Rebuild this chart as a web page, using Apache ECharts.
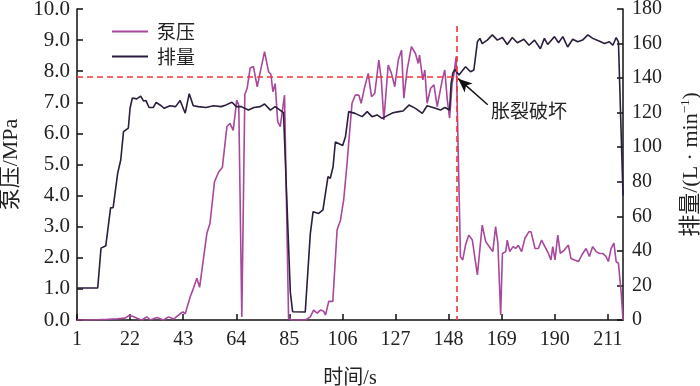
<!DOCTYPE html>
<html>
<head>
<meta charset="utf-8">
<script src="https://cdn.jsdelivr.net/npm/echarts@6/dist/echarts.min.js"></script>
<style>
  html, body { margin: 0; padding: 0; background: #fff; }
  #myChart { width: 700px; height: 386px; }
</style>
</head>
<body>
<div id="myChart"></div>
<script>
// 泵压 (MPa) 采样时间与数值
var pumpTime = [1, 5, 9, 13, 17, 20, 21.5, 23, 25, 26.6, 28.6, 30, 32.6, 35.2, 37.2, 39.2, 41.8, 42.9, 43.8, 45.8,
  46.8, 48.4, 49.5, 52.4, 53.6, 55.4, 57, 58.5, 60.3, 61.5, 62.8, 64.2, 65, 66.2, 67.4, 68.3, 69.5, 70.8, 72.3, 73.5,
  75.2, 76.8, 77.7, 78.5, 79.4, 80.4, 81.4, 83.1, 84.7, 86, 91.3, 93.3, 94.6, 96, 97.3, 98.6, 99.3, 100.6, 102.2, 103.9,
  105.2, 106.5, 107.8, 108.8, 109.8, 111.1, 112.5, 113.4, 114.7, 116.2, 117.5, 118.8, 120.4, 121.4, 122.4, 124.1, 125.4, 126.7, 128.1, 129.4,
  130.3, 131.6, 133.3, 134.9, 136, 136.5, 137.8, 138.6, 139.5, 140.9, 142.2, 143.5, 144.1, 145.5, 146.5, 147.5, 148.4, 149.4, 150.1, 151,
  152.7, 153.6, 154.7, 156, 157.4, 159.4, 161.3, 162.7, 164.6, 165.5, 166.6, 167.5, 168.6, 169.3, 170.6, 171.2, 172.2, 173.5, 174.5, 175.6,
  176.9, 178.2, 179.8, 180.6, 182.2, 183.5, 184.8, 186.1, 187.5, 188.5, 189.2, 190.1, 191.2, 192.2, 193.8, 195.4, 196.4, 197.8, 199.4, 200.7,
  202.4, 203.7, 205, 206.4, 207.7, 209, 210.3, 211.2, 212.3, 213.4, 214.3, 215.2, 216.3, 217]
var pumpPressure = [0, 0, 0.01, 0.02, 0.04, 0.06, 0.14, 0.12, 0.05, 0, 0.1, 0, 0.08, 0, 0.1, 0.03, 0.2, 0.26, 0.2, 0.75,
  0.96, 1.34, 1.05, 2.8, 3.1, 4.45, 4.75, 4.9, 6.22, 6.32, 6.1, 7.07, 6.9, 0.1, 7.25, 7.45, 8.1, 8.15, 7.5, 7.98,
  8.63, 7.98, 7.9, 7.34, 7.6, 6.38, 6.22, 7.23, 0.05, 0, 0, 0.1, 0.32, 0.22, 0.32, 0.28, 0.16, 0.6, 0.6, 2.9,
  3.2, 3.86, 5.0, 6.0, 6.97, 7.23, 7.23, 6.97, 7.45, 7.93, 7.18, 7.29, 8.36, 7.72, 6.43, 8.2, 7.93, 7.5, 8.36, 8.68,
  7.13, 8.04, 8.79, 8.57, 8.25, 8.52, 7.72, 8.04, 6.97, 7.45, 7.56, 6.86, 6.8, 7.72, 8.04, 7.07, 6.49, 7.6, 7.9, 8.47,
  2.03, 1.93, 2.41, 2.73, 2.57, 1.45, 3.05, 2.52, 2.3, 2.2, 3.0, 2.47, 0.16, 2.14, 2.2, 2.57, 2.2, 2.36, 2.3, 2.4,
  2.2, 2.63, 2.84, 2.84, 2.3, 2.3, 2.57, 2.36, 2.14, 1.93, 2.36, 1.93, 2.73, 2.14, 2.25, 2.41, 1.98, 1.93, 1.88, 2.09,
  2.3, 2.04, 2.36, 2.2, 2.14, 2.14, 2.04, 1.88, 2.3, 2.47, 1.88, 1.82, 0.86, 0]

// 排量 (L/min) 采样时间与数值
var flowTime = [1, 9.2, 10.5, 12.4, 14.3, 15.3, 17.1, 18.3, 19.4, 21.3, 22, 22.9, 24.6, 26.2, 27.3, 28.3, 29.5, 31.2, 32.3, 34.3,
  35.5, 37.8, 40, 41.8, 43.8, 45.4, 47, 49, 52, 55, 58, 60, 62.3, 64, 66, 68.8, 71, 73.5, 75.2, 77.5,
  79.4, 82.7, 83.4, 85.4, 86.3, 91.3, 93.3, 94.4, 96.6, 98.3, 100.3, 101.2, 102.3, 103.2, 106.1, 107.2, 108.5, 111, 113.8, 115.8,
  117.7, 119.7, 121.7, 124.3, 126, 128.3, 130, 132.3, 134.9, 137.6, 139.5, 142.8, 144.8, 146.5, 148.4, 149, 149.7, 150.5, 152.1, 154.7,
  156.7, 158, 159.4, 160.4, 161.3, 163.3, 165.3, 167.3, 169.3, 171.2, 173.2, 175.2, 177.8, 179.8, 182, 184.3, 185.9, 187.2, 189.9, 191.5,
  193.2, 195.1, 197.1, 199.1, 201, 203.1, 205, 207.5, 209.7, 211.6, 213, 214.3, 215.2, 217]
var flowRate = [18.5, 18.5, 41.6, 43, 65, 65, 85, 92.6, 109, 111, 122.7, 128.5, 128, 129.6, 126.8, 127, 123, 123, 126, 124,
  122.5, 124, 123.5, 127, 119.7, 131, 124, 123.5, 123, 124, 123.5, 124.5, 126, 123.5, 123.5, 121.5, 123, 123.5, 125, 121.5,
  123.5, 120, 120, 16, 4.8, 4.6, 50, 62.7, 61.7, 63.7, 83, 82, 88.7, 103, 101, 106, 120.6, 119.6, 117.7, 120.6,
  117.7, 118.7, 116.7, 118.7, 120, 120.6, 121, 124.4, 122.5, 119.6, 124, 122.5, 121.5, 123, 121.5, 137, 143, 145, 141.8, 146.6,
  143.7, 144.7, 161, 163, 160, 162, 165, 162, 163.5, 159.5, 163.5, 160.5, 162.5, 159, 162, 157, 163, 159.5, 164, 160.5,
  164, 158, 162.5, 161, 162, 165, 163, 161.5, 160, 161, 159, 163.5, 161, 72]

// 胀裂破坏点
var breakTime = 151.2
var breakPressure = 7.81
var breakTop = 9.45
var noteAt = [163.5, 6.92]

function zip (xs, ys) {
  return xs.map(function (x, i) { return [x, ys[i]] })
}

var font = "'Liberation Serif', 'Times New Roman', 'Noto Sans CJK SC', serif"
var cjk = "'Noto Sans CJK SC', 'Liberation Serif', sans-serif"

var myChart = echarts.init(document.getElementById('myChart'))
myChart.setOption({
  animation: false,
  grid: {
    left: 77,
    right: 77,
    top: 9,
    bottom: 66,
    containLabel: false,
    outerBoundsMode: 'none'
  },
  legend: {
    orient: 'vertical',
    left: 107,
    top: 17,
    icon: 'rect',
    itemWidth: 36,
    itemHeight: 2,
    itemGap: 6,
    textStyle: { fontFamily: cjk, fontSize: 19, color: '#222', padding: [0, 0, 0, 4] },
    data: ['泵压', '排量']
  },
  xAxis: {
    type: 'value',
    min: 1,
    max: 217,
    interval: 21,
    name: '时间/s',
    nameLocation: 'middle',
    nameGap: 49,
    nameTextStyle: { fontFamily: font, fontSize: 20, color: '#222' },
    axisLine: { lineStyle: { color: '#111', width: 1.5 } },
    axisTick: { inside: true, length: 6, lineStyle: { color: '#111', width: 1.5 } },
    axisLabel: { fontFamily: font, fontSize: 20, color: '#222', margin: 10, showMaxLabel: false },
    splitLine: { show: false }
  },
  yAxis: [
    {
      type: 'value',
      min: 0,
      max: 10,
      interval: 1,
      name: '泵压/MPa',
      nameLocation: 'middle',
      nameGap: 52,
      nameRotate: 90,
      nameTextStyle: { fontFamily: font, fontSize: 22, color: '#222' },
      axisLine: { show: true, lineStyle: { color: '#111', width: 1.5 } },
      axisTick: { show: true, inside: true, length: 6, lineStyle: { color: '#111', width: 1.5 } },
      axisLabel: {
        fontFamily: font,
        fontSize: 21,
        color: '#222',
        margin: 7,
        formatter: function (v) { return v.toFixed(1) }
      },
      splitLine: { show: false }
    },
    {
      type: 'value',
      min: 0,
      max: 180,
      interval: 20,
      position: 'right',
      name: '排量/(L · min{sup|−1})',
      nameLocation: 'middle',
      nameGap: 56,
      nameRotate: 90,
      nameTextStyle: {
        fontFamily: font,
        fontSize: 22,
        color: '#222',
        rich: {
          sup: { fontFamily: font, fontSize: 13, color: '#222', padding: [0, 0, 11, 0] }
        }
      },
      axisLine: { show: true, lineStyle: { color: '#111', width: 1.5 } },
      axisTick: { show: true, inside: true, length: 6, lineStyle: { color: '#111', width: 1.5 } },
      axisLabel: { fontFamily: font, fontSize: 20, color: '#222', margin: 9 },
      splitLine: { show: false }
    }
  ],
  series: [
    {
      name: '泵压',
      type: 'line',
      yAxisIndex: 0,
      data: zip(pumpTime, pumpPressure),
      symbol: 'none',
      lineStyle: { color: '#a8479c', width: 1.6 },
      itemStyle: { color: '#a8479c' },
      markLine: {
        silent: true,
        symbol: 'none',
        label: { show: false },
        lineStyle: { color: '#ee3a3a', type: [6, 4], width: 1.6 },
        data: [
          [{ coord: [1, breakPressure] }, { coord: [breakTime, breakPressure] }],
          [{ coord: [breakTime, breakTop] }, { coord: [breakTime, 0] }],
          [
            { coord: noteAt, symbol: 'none', lineStyle: { color: '#111', type: 'solid', width: 1.5 } },
            { coord: [breakTime + 0.6, breakPressure - 0.05], symbol: 'arrow', symbolSize: [9, 14], lineStyle: { color: '#111', type: 'solid', width: 1.5 } }
          ]
        ]
      },
      markPoint: {
        silent: true,
        symbol: 'circle',
        symbolSize: 0,
        label: {
          show: true,
          position: 'right',
          distance: 2,
          formatter: '胀裂破坏',
          fontFamily: cjk,
          fontSize: 19,
          color: '#222'
        },
        data: [{ coord: [noteAt[0] + 0.5, noteAt[1] - 0.2] }]
      }
    },
    {
      name: '排量',
      type: 'line',
      yAxisIndex: 1,
      data: zip(flowTime, flowRate),
      symbol: 'none',
      lineStyle: { color: '#2b1d3c', width: 1.6 },
      itemStyle: { color: '#2b1d3c' }
    }
  ]
})
</script>
</body>
</html>
